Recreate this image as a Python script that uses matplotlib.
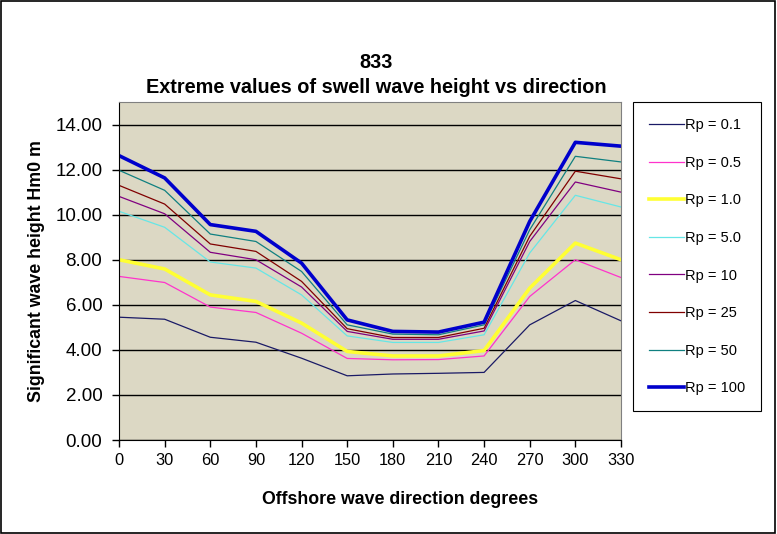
import numpy as np
import matplotlib as mpl
mpl.use('Agg')
import matplotlib.pyplot as plt
from matplotlib.patches import Rectangle

plt.rcParams['font.family'] = ['Liberation Sans', 'DejaVu Sans']

# directions (degrees)
directions = [0, 30, 60, 90, 120, 150, 180, 210, 240, 270, 300, 330]
# return periods
labels = ['Rp = 0.1', 'Rp = 0.5', 'Rp = 1.0', 'Rp = 5.0',
          'Rp = 10', 'Rp = 25', 'Rp = 50', 'Rp = 100']
# wave heights
rp_01 = [5.45, 5.36, 4.56, 4.34, 3.63, 2.85, 2.93, 2.96, 3.00, 5.11, 6.19, 5.29]
rp_05 = [7.26, 6.99, 5.90, 5.66, 4.74, 3.62, 3.56, 3.57, 3.73, 6.37, 8.00, 7.21]
rp_1 = [8.00, 7.59, 6.44, 6.15, 5.19, 3.93, 3.73, 3.73, 3.97, 6.74, 8.74, 8.00]
rp_5 = [10.15, 9.44, 7.90, 7.63, 6.44, 4.62, 4.33, 4.33, 4.67, 8.30, 10.86, 10.34]
rp_10 = [10.81, 10.04, 8.33, 8.00, 6.79, 4.82, 4.47, 4.47, 4.84, 8.81, 11.45, 11.00]
rp_25 = [11.30, 10.47, 8.70, 8.37, 7.04, 4.94, 4.55, 4.55, 4.96, 9.04, 11.93, 11.59]
rp_50 = [11.97, 11.08, 9.14, 8.81, 7.48, 5.11, 4.70, 4.67, 5.11, 9.33, 12.59, 12.34]
rp_100 = [12.62, 11.63, 9.56, 9.26, 7.85, 5.33, 4.82, 4.79, 5.23, 9.70, 13.21, 13.04]
series = [rp_01, rp_05, rp_1, rp_5, rp_10, rp_25, rp_50, rp_100]

colors = ['#1a1a66', '#ff33cc', '#ffff33', '#66e6e6',
          '#800080', '#800000', '#108080', '#0000cc']
widths = [0.9, 0.9, 2.6, 0.9, 0.9, 0.9, 0.9, 2.6]

fig = plt.figure(figsize=(7.77, 5.34), dpi=100)
ax = fig.add_axes([0.1532, 0.176, 0.646, 0.633])
ax.set_facecolor('#dcd8c4')

for vals, lab, c, w in zip(series, labels, colors, widths):
    ax.plot(directions, vals, color=c, lw=w, label=lab)

ax.set_xlim(0, 330)
ax.set_ylim(0, 15)
ax.set_xticks(directions)
ax.set_yticks(np.arange(0, 15, 2))
ax.yaxis.set_major_formatter(mpl.ticker.FormatStrFormatter('%.2f'))
ax.yaxis.grid(True, color='black', lw=1)
ax.set_axisbelow(True)
ax.tick_params(axis='both', direction='out', length=5, width=1, color='black')
ax.tick_params(axis='y', labelsize=13.5, pad=7)
ax.tick_params(axis='x', labelsize=11.8, pad=4)
for s in ['top', 'right']:
    ax.spines[s].set_color('#808080')
for s in ['left', 'bottom']:
    ax.spines[s].set_color('black')

ax.set_xlabel('Offshore wave direction degrees', fontsize=12.8, fontweight='bold')
ax.xaxis.set_label_coords(0.559, -0.15)
ax.set_ylabel('Significant wave height Hm0 m', fontsize=12.8, fontweight='bold')
ax.yaxis.set_label_coords(-0.147, 0.5)

fig.text(0.484, 0.86, '833\nExtreme values of swell wave height vs direction',
         ha='center', va='center', fontsize=14.3, fontweight='bold', linespacing=1.4)

leg = fig.legend(loc='upper left', bbox_to_anchor=(0.8147, 0.809), fontsize=10.5,
                 frameon=True, fancybox=False, edgecolor='black', framealpha=1,
                 labelspacing=1.62, handlelength=2.4, handletextpad=0.05,
                 borderpad=1.1, borderaxespad=0)
leg.get_frame().set_linewidth(0.8)

fig.patches.append(Rectangle((0.001, 0.001), 0.997, 0.997, transform=fig.transFigure,
                             fill=False, edgecolor='black', lw=1.2))

fig.savefig('out.png', dpi=100)
